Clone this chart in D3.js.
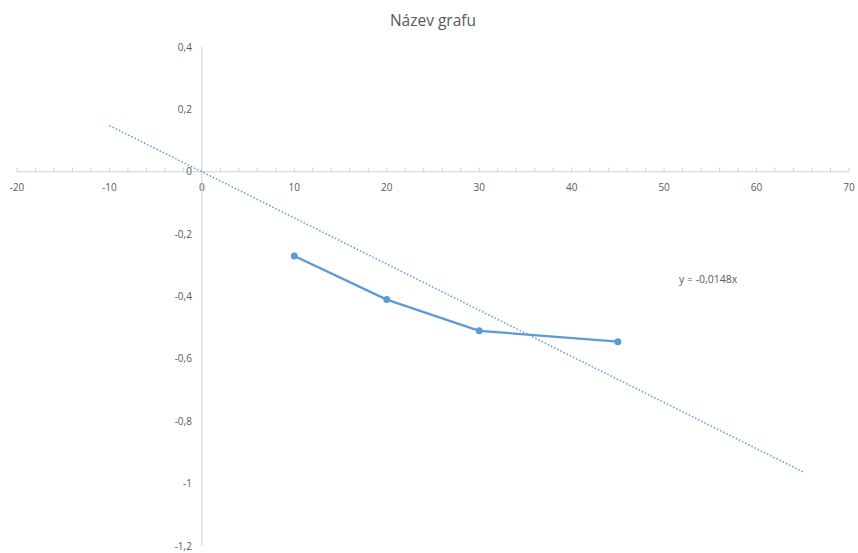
<!DOCTYPE html>
<html><head><meta charset="utf-8">
<script src="https://cdn.jsdelivr.net/npm/d3@7"></script>
<style>body{margin:0;background:#fff}text{font-family:"Open Sans","Liberation Sans",sans-serif;fill:#595959}</style>
</head><body><svg id="c" width="858" height="553"></svg>
<script>
const xs = [10, 20, 30, 45];
const ys = [-0.27, -0.41, -0.51, -0.545];
const slope = -0.0148;
const trendX = [-10, 65];
const xTicks = [-20, -10, 0, 10, 20, 30, 40, 50, 60, 70];
const yTicks = [0.4, 0.2, 0, -0.2, -0.4, -0.6, -0.8, -1, -1.2];
const title = "Název grafu";
const eqLabel = "y = -0,0148x";

const svg = d3.select("#c");
const x = d3.scaleLinear().domain([-20, 70]).range([17, 849]);
const y = d3.scaleLinear().domain([-1.2, 0.4]).range([546, 47]);
const fmt = v => String(+v.toFixed(2)).replace(".", ",");

svg.append("text").attr("x", 433).attr("y", 26).attr("text-anchor", "middle")
  .style("font-size", "15.5px").text(title);

// x axis at y=0
const xa = svg.append("g").attr("transform", `translate(0,${y(0)})`);
xa.append("line").attr("x1", x(-20)).attr("x2", x(70)).attr("stroke", "#d0d0d0").attr("stroke-width", 1);
xa.selectAll("line.mt").data(d3.range(-20, 70.1, 2)).join("line")
  .attr("x1", d => x(d)).attr("x2", d => x(d)).attr("y1", -4).attr("y2", 0)
  .attr("stroke", "#d0d0d0");
xa.selectAll("text").data(xTicks).join("text")
  .attr("x", d => x(d)).attr("y", 19).attr("text-anchor", "middle")
  .style("font-size", "10px").text(d => fmt(d));

// y axis at x=0
const ya = svg.append("g").attr("transform", `translate(${x(0)},0)`);
ya.append("line").attr("y1", y(0.4)).attr("y2", y(-1.2)).attr("stroke", "#d0d0d0");
ya.selectAll("text").data(yTicks).join("text")
  .attr("x", -10).attr("y", d => y(d) + 3.5).attr("text-anchor", "end")
  .style("font-size", "10px").text(d => fmt(d));

// trendline
svg.append("line")
  .attr("x1", x(trendX[0])).attr("y1", y(slope * trendX[0]))
  .attr("x2", x(trendX[1])).attr("y2", y(slope * trendX[1]))
  .attr("stroke", "#5B9BD5").attr("stroke-width", 1.5).attr("stroke-dasharray", "1.5,2");

// series
const pts = xs.map((d, i) => [d, ys[i]]);
svg.append("path").datum(pts)
  .attr("d", d3.line().x(d => x(d[0])).y(d => y(d[1])))
  .attr("fill", "none").attr("stroke", "#5B9BD5").attr("stroke-width", 2.25);
svg.selectAll("circle").data(pts).join("circle")
  .attr("cx", d => x(d[0])).attr("cy", d => y(d[1])).attr("r", 3.5)
  .attr("fill", "#5B9BD5");

svg.append("text").attr("x", 679).attr("y", 283).style("font-size", "10.5px").text(eqLabel);
</script></body></html>
